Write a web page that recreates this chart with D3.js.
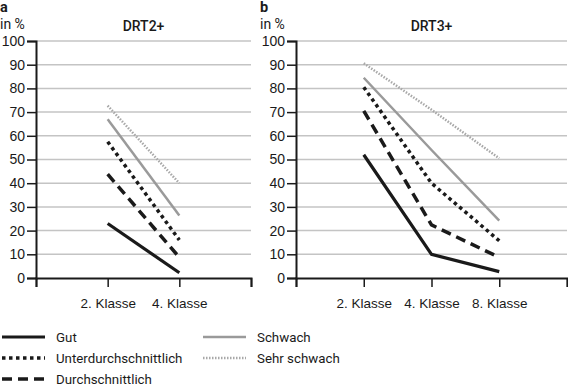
<!DOCTYPE html>
<html>
<head>
<meta charset="utf-8">
<script src="https://cdn.jsdelivr.net/npm/d3@7"></script>
<style>
  body { margin: 0; background: #fff; }
  svg { display: block; font-family: Roboto, "Noto Sans", sans-serif; }
</style>
</head>
<body>
<div id="chart"></div>
<script>
// categories (blank ends keep the end ticks like the original)
const classesA = ["2. Klasse", "4. Klasse"];
const classesB = ["2. Klasse", "4. Klasse", "8. Klasse"];
const seriesNames = ["Gut", "Unterdurchschnittlich", "Durchschnittlich", "Schwach", "Sehr schwach"];

// panel a: DRT2+
const gutA = [23, 2.2];
const unterA = [57.5, 16];
const durchA = [43.8, 8.7];
const schwachA = [67, 26.4];
const sehrA = [72.7, 40];

// panel b: DRT3+
const gutB = [52, 10, 2.7];
const unterB = [80.5, 40, 15.7];
const durchB = [70.5, 22.4, 8.7];
const schwachB = [84.5, 54, 24.2];
const sehrB = [90.6, 71, 50.5];

const yTicks = [0, 10, 20, 30, 40, 50, 60, 70, 80, 90, 100];

const styles = {
  "Gut": {stroke: "#1a1a1a", width: 3.2, dash: null},
  "Unterdurchschnittlich": {stroke: "#1a1a1a", width: 3.5, dash: "3.5,3.5"},
  "Durchschnittlich": {stroke: "#1a1a1a", width: 3.5, dash: "10,6"},
  "Schwach": {stroke: "#9a9a9a", width: 2.5, dash: null},
  "Sehr schwach": {stroke: "#a8a8a8", width: 2.5, dash: "1.5,1.5"}
};

const W = 568, H = 387;
const svg = d3.select("#chart").append("svg")
  .attr("width", W).attr("height", H);

const y = d3.scaleLinear().domain([0, 100]).range([278, 41]);

function panel(opts) {
  const {left, right, cats, series, title, letter, letterX} = opts;
  const domain = ["_s"].concat(cats, ["_e"]);
  const x = d3.scalePoint().domain(domain).range([left, right]);
  const g = svg.append("g");

  // gridlines
  g.selectAll(".grid").data(yTicks.slice(1)).join("line")
    .attr("x1", left).attr("x2", right)
    .attr("y1", d => y(d)).attr("y2", d => y(d))
    .attr("stroke", "#c4c4c4").attr("stroke-width", 1.5);

  const yAxis = g.append("g")
    .attr("transform", `translate(${left},0)`)
    .call(d3.axisLeft(y).tickValues(yTicks).tickSize(9).tickPadding(2));
  yAxis.select(".domain").attr("stroke", "#1a1a1a").attr("stroke-width", 2);
  yAxis.selectAll(".tick line").attr("stroke", "#1a1a1a").attr("stroke-width", 1.5);
  yAxis.selectAll("text").attr("font-size", 14).attr("fill", "#1a1a1a");

  const xAxis = g.append("g")
    .attr("transform", `translate(0,${y(0)})`)
    .call(d3.axisBottom(x).tickSize(9).tickPadding(11)
      .tickFormat(d => d.startsWith("_") ? "" : d));
  xAxis.select(".domain").attr("stroke", "#1a1a1a").attr("stroke-width", 2);
  xAxis.selectAll(".tick line").attr("stroke", "#1a1a1a").attr("stroke-width", 1.5);
  xAxis.selectAll("text").attr("font-size", 13.5).attr("fill", "#1a1a1a");

  const line = d3.line().x((d, i) => x(cats[i])).y(d => y(d));
  seriesNames.forEach((name, k) => {
    const st = styles[name];
    g.append("path")
      .datum(series[k])
      .attr("d", line)
      .attr("fill", "none")
      .attr("stroke", st.stroke)
      .attr("stroke-width", st.width)
      .attr("stroke-dasharray", st.dash);
  });

  g.append("text").attr("x", (left + right) / 2).attr("y", 31)
    .attr("text-anchor", "middle").attr("font-size", 14).attr("font-weight", 500)
    .attr("fill", "#1a1a1a").text(title);
  g.append("text").attr("x", letterX).attr("y", 12)
    .attr("font-size", 14.5).attr("font-weight", 700)
    .attr("fill", "#1a1a1a").text(letter);
  g.append("text").attr("x", letterX).attr("y", 29)
    .attr("font-size", 14).attr("fill", "#1a1a1a").text("in %");
}

panel({left: 36, right: 251, cats: classesA,
  series: [gutA, unterA, durchA, schwachA, sehrA], title: "DRT2+", letter: "a", letterX: 0});
panel({left: 296, right: 567, cats: classesB,
  series: [gutB, unterB, durchB, schwachB, sehrB], title: "DRT3+", letter: "b", letterX: 260});

// legend
const legendPos = [[2, 337], [2, 358], [2, 379], [203, 337], [203, 358]];
const legend = svg.append("g").selectAll("g").data(seriesNames).join("g")
  .attr("transform", (d, i) => `translate(${legendPos[i][0]},${legendPos[i][1]})`);
legend.append("line")
  .attr("x1", 0).attr("x2", 43).attr("y1", 0).attr("y2", 0)
  .attr("stroke", d => styles[d].stroke)
  .attr("stroke-width", d => styles[d].width)
  .attr("stroke-dasharray", d => styles[d].dash);
legend.append("text")
  .attr("x", 54).attr("y", 0).attr("dy", "0.35em")
  .attr("font-size", 13.3).attr("fill", "#1a1a1a")
  .text(d => d);
</script>
</body>
</html>
